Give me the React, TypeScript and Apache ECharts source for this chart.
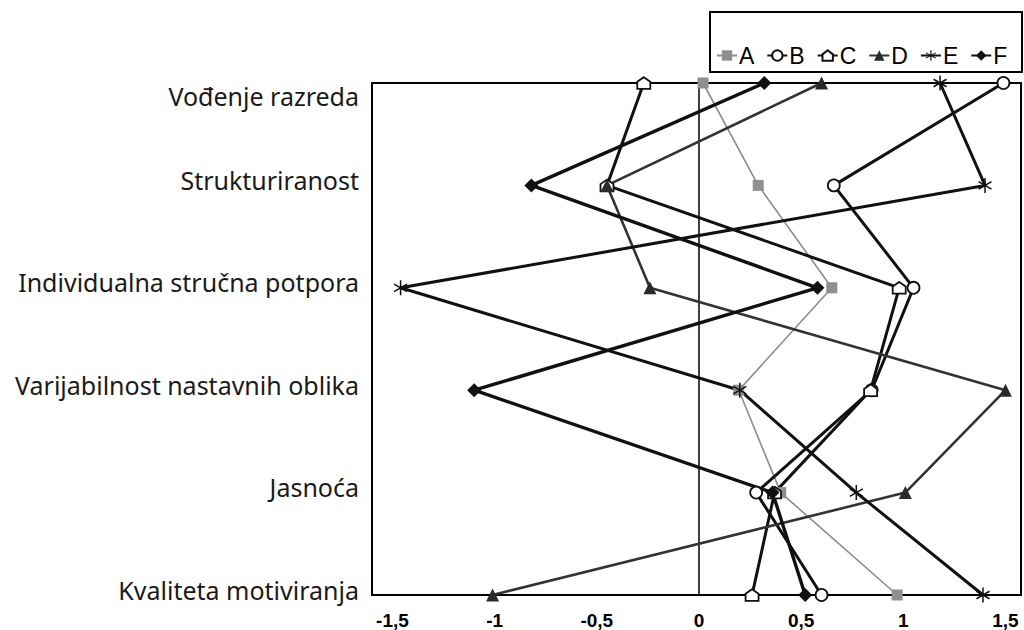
import React, { useEffect, useRef } from "react";
import * as echarts from "echarts";

const categories = [
  "Vođenje razreda",
  "Strukturiranost",
  "Individualna stručna potpora",
  "Varijabilnost nastavnih oblika",
  "Jasnoća",
  "Kvaliteta motiviranja",
];
const seriesNames = ["A", "B", "C", "D", "E", "F"];
const valuesA = [0.02, 0.29, 0.65, 0.195, 0.4, 0.97];
const valuesB = [1.49, 0.66, 1.05, 0.845, 0.28, 0.6];
const valuesC = [-0.27, -0.45, 0.98, 0.84, 0.37, 0.26];
const valuesD = [0.6, -0.45, -0.24, 1.5, 1.01, -1.01];
const valuesE = [1.18, 1.4, -1.46, 0.2, 0.77, 1.39];
const valuesF = [0.32, -0.82, 0.58, -1.1, 0.36, 0.52];

const houseSymbol = "path://M0,-10 L10,-3 L10,8 L-10,8 L-10,-3 Z";
const starSymbol =
  "path://M-1,-10 L1,-10 L1,10 L-1,10 Z " +
  "M-9.16,-4.13 L-8.16,-5.87 L9.16,4.13 L8.16,5.87 Z " +
  "M-8.16,5.87 L-9.16,4.13 L8.16,-5.87 L9.16,-4.13 Z";

export default function App() {
  const ref = useRef<HTMLDivElement>(null);
  useEffect(() => {
    document.body.style.margin = "0";
    const chart = echarts.init(ref.current!, undefined, { renderer: "svg" });
    const fmt = (v: number) => {
      const r = Math.round(v * 2);
      if (Math.abs(v * 2 - r) > 1e-6) return "";
      return String(r / 2).replace(".", ",");
    };
    const yData = categories.map((c, i) =>
      i === 0
        ? { value: c, textStyle: { verticalAlign: "top" } }
        : { value: c, textStyle: { verticalAlign: "bottom", lineHeight: 27, padding: [0, 0, -8, 0] } }
    );
    const base = { type: "line", clip: false, z: 3 };
    chart.setOption({
      animation: false,
      backgroundColor: "#fff",
      grid: {
        left: 372,
        top: 83,
        width: 651,
        height: 514,
        show: true,
        borderColor: "#000",
        borderWidth: 2,
        backgroundColor: "transparent",
      },
      xAxis: {
        type: "value",
        min: -1.6,
        max: 1.576,
        interval: 0.1,
        axisLine: { show: false },
        axisTick: { show: false },
        splitLine: { show: false },
        axisLabel: {
          formatter: fmt,
          fontSize: 19,
          fontWeight: "bold",
          fontFamily: "Liberation Sans, Arial, sans-serif",
          color: "#000",
          margin: 16,
        },
      },
      yAxis: {
        type: "category",
        inverse: true,
        boundaryGap: false,
        data: yData,
        axisLine: { show: false },
        axisTick: { show: false },
        splitLine: { show: false },
        axisLabel: {
          fontSize: 25,
          fontFamily: "Noto Sans, Open Sans, sans-serif",
          color: "#1a1a1a",
          margin: 13,
        },
      },
      legend: {
        left: 716,
        top: 44,
        itemWidth: 20,
        itemHeight: 13,
        itemGap: 12,
        padding: 0,
        textStyle: {
          fontSize: 23,
          fontFamily: "Liberation Sans, Arial, sans-serif",
          color: "#000",
          padding: [0, 0, 0, -3],
        },
        data: seriesNames,
      },
      graphic: [
        {
          type: "rect",
          shape: { x: 710, y: 12, width: 312, height: 60 },
          style: { fill: "none", stroke: "#000", lineWidth: 2 },
          silent: true,
        },
      ],
      series: [
        {
          ...base,
          name: "A",
          data: valuesA,
          symbol: "rect",
          symbolSize: 11,
          lineStyle: { color: "#8c8c8c", width: 1.6 },
          itemStyle: { color: "#8f8f8f", borderWidth: 0 },
          markLine: {
            silent: true,
            symbol: ["none", "none"],
            label: { show: false },
            lineStyle: { color: "#000", width: 1.5, type: "solid" },
            data: [{ xAxis: 0 }],
            z: 1,
          },
        },
        {
          ...base,
          name: "B",
          data: valuesB,
          symbol: "circle",
          symbolSize: 12,
          lineStyle: { color: "#111", width: 3 },
          itemStyle: { color: "#fff", borderColor: "#111", borderWidth: 1.8 },
        },
        {
          ...base,
          name: "C",
          data: valuesC,
          symbol: houseSymbol,
          symbolSize: 13,
          symbolKeepAspect: true,
          lineStyle: { color: "#111", width: 3 },
          itemStyle: { color: "#fff", borderColor: "#111", borderWidth: 1.8 },
        },
        {
          ...base,
          name: "D",
          data: valuesD,
          symbol: "triangle",
          symbolSize: 13,
          lineStyle: { color: "#333", width: 2.6 },
          itemStyle: { color: "#2a2a2a", borderWidth: 0 },
        },
        {
          ...base,
          name: "E",
          data: valuesE,
          symbol: starSymbol,
          symbolSize: 15,
          symbolKeepAspect: true,
          lineStyle: { color: "#111", width: 3 },
          itemStyle: { color: "#111", borderWidth: 0 },
        },
        {
          ...base,
          name: "F",
          data: valuesF,
          symbol: "diamond",
          symbolSize: 14,
          lineStyle: { color: "#111", width: 3.4 },
          itemStyle: { color: "#111", borderWidth: 0 },
        },
      ],
    });
    return () => chart.dispose();
  }, []);
  return <div ref={ref} style={{ width: 1024, height: 630 }} />;
}
